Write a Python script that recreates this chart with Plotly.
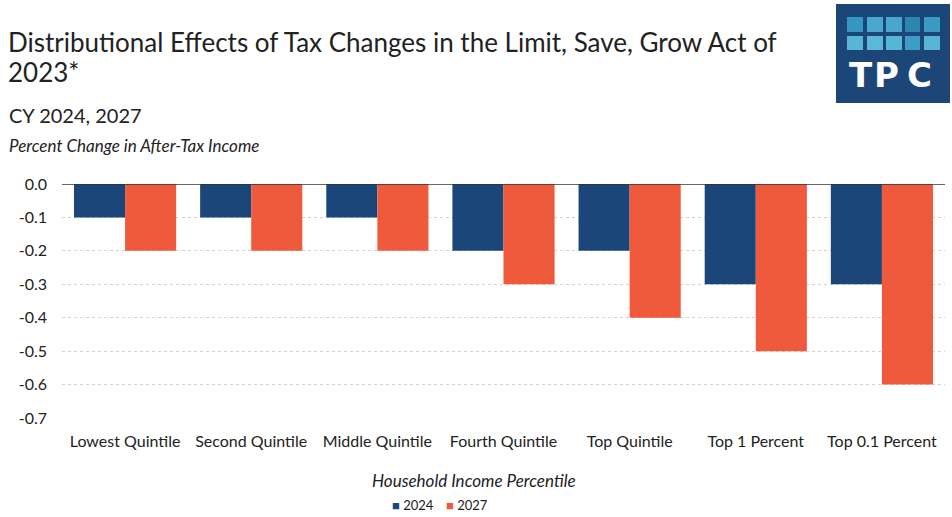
import plotly.graph_objects as go

categories = ["Lowest Quintile", "Second Quintile", "Middle Quintile", "Fourth Quintile",
              "Top Quintile", "Top 1 Percent", "Top 0.1 Percent"]
values_2024 = [-0.1, -0.1, -0.1, -0.2, -0.2, -0.3, -0.3]
values_2027 = [-0.2, -0.2, -0.2, -0.3, -0.4, -0.5, -0.6]
y_ticks = [0.0, -0.1, -0.2, -0.3, -0.4, -0.5, -0.6, -0.7]
y_tick_labels = ["0.0", "-0.1", "-0.2", "-0.3", "-0.4", "-0.5", "-0.6", "-0.7"]
series_names = ["2024", "2027"]

NAVY = "#1B4679"
ORANGE = "#EF5A3D"
FONT = "Lato"
TXT = "#222222"

W, H = 952, 517
L, R, T, B = 62, 7, 184, 99
PW, PH = W - L - R, H - T - B

def px(x):
    return (x - L) / PW

def py(y):
    return (H - B - y) / PH

fig = go.Figure()
fig.add_bar(x=categories, y=values_2024, name=series_names[0], marker_color=NAVY,
            marker_line_width=0, showlegend=False)
fig.add_bar(x=categories, y=values_2027, name=series_names[1], marker_color=ORANGE,
            marker_line_width=0, showlegend=False)

shapes = [
    dict(type="rect", xref="paper", yref="paper", x0=px(836), x1=px(950), y0=py(103), y1=py(4),
         fillcolor="#1C4677", line_width=0, layer="above"),
]
tile_cols = [(847, 863), (867, 883), (886, 902), (905, 920), (924, 940)]
row_y = [(17, 32), (36, 50)]
tile_colors = [["#3596BF", "#4AA7CD", "#49A6CC", "#2D86B0", "#3A9AC2"],
               ["#57B5D6", "#5BB8D8", "#57B5D6", "#3E9DC5", "#57B5D6"]]
for ri, (ya, yb) in enumerate(row_y):
    for ci, (xa, xb) in enumerate(tile_cols):
        shapes.append(dict(type="rect", xref="paper", yref="paper",
                           x0=px(xa), x1=px(xb), y0=py(yb), y1=py(ya),
                           fillcolor=tile_colors[ri][ci], line_width=0, layer="above"))
shapes.append(dict(type="line", xref="paper", yref="y", x0=0, x1=1, y0=0, y1=0,
                   line=dict(color="#333333", width=1.5), layer="above"))

annotations = [
    dict(text="Distributional Effects of Tax Changes in the Limit, Save, Grow Act of",
         xref="paper", yref="paper", x=px(6), y=py(42), xanchor="left", yanchor="middle",
         align="left", showarrow=False, font=dict(family=FONT, size=26, color=TXT)),
    dict(text="2023*",
         xref="paper", yref="paper", x=px(6), y=py(72), xanchor="left", yanchor="middle",
         align="left", showarrow=False, font=dict(family=FONT, size=26, color=TXT)),
    dict(text="CY 2024, 2027", xref="paper", yref="paper", x=px(7), y=py(115),
         xanchor="left", yanchor="middle", showarrow=False,
         font=dict(family=FONT, size=20, color=TXT)),
    dict(text="<i>Percent Change in After-Tax Income</i>", xref="paper", yref="paper",
         x=px(7), y=py(145), xanchor="left", yanchor="middle", showarrow=False,
         font=dict(family=FONT, size=17, color=TXT)),
    dict(text="<i>Household Income Percentile</i>", xref="paper", yref="paper",
         x=px(474), y=py(480), xanchor="center", yanchor="middle", showarrow=False,
         font=dict(family=FONT, size=17, color=TXT)),
]
for letter, cx in zip(["T", "P", "C"], [861, 886, 919]):
    annotations.append(dict(text=f"<b>{letter}</b>", xref="paper", yref="paper",
                            x=px(cx), y=py(75), xanchor="center", yanchor="middle",
                            showarrow=False,
                            font=dict(family="DejaVu Sans", size=34, color="white")))
# legend
for name, color, x0 in zip(series_names, [NAVY, ORANGE], [390, 444]):
    annotations.append(dict(text=f"<span style='color:{color}'>■</span> {name}",
                            xref="paper", yref="paper", x=px(x0), y=py(505),
                            xanchor="left", yanchor="middle", showarrow=False,
                            font=dict(family=FONT, size=13, color=TXT)))

fig.update_layout(
    width=W, height=H,
    margin=dict(l=L, r=R, t=T, b=B, autoexpand=False),
    paper_bgcolor="white", plot_bgcolor="white",
    barmode="group", bargap=0.19, bargroupgap=0,
    font=dict(family=FONT, size=16, color=TXT),
    shapes=shapes, annotations=annotations,
    showlegend=False,
    xaxis=dict(showgrid=False, showline=False, ticks="", ticklabelstandoff=12,
               tickfont=dict(family=FONT, size=16, color=TXT)),
    yaxis=dict(range=[-0.7, 0.0], tickvals=y_ticks, ticktext=y_tick_labels,
               showgrid=True, gridcolor="#D3D3D3", griddash="dot", gridwidth=1,
               zeroline=False, showline=False, ticks="", ticklabelstandoff=14,
               tickfont=dict(family=FONT, size=16, color=TXT)),
)

fig.write_html("out.html", config={"displayModeBar": False},
               post_script="document.body.style.margin='0';")
